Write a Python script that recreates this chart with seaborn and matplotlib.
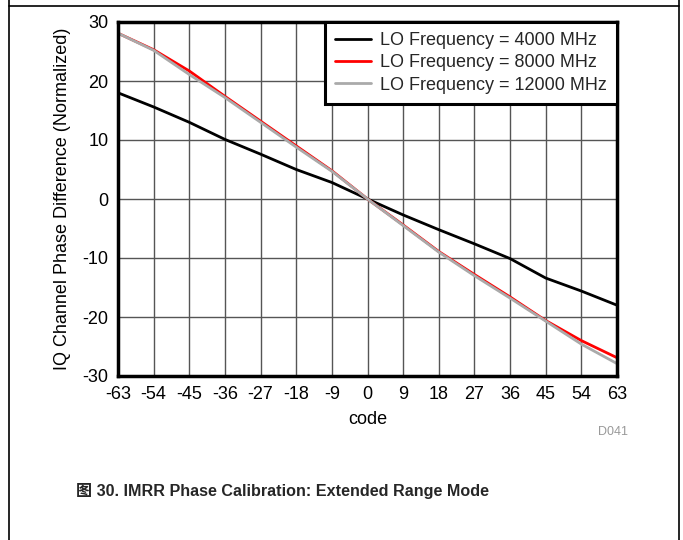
import matplotlib
matplotlib.use("Agg")
import matplotlib.pyplot as plt
import numpy as np
import pandas as pd
import seaborn as sns
from matplotlib.lines import Line2D

# Values (one point per tick of the code axis).
CODES = [-63, -54, -45, -36, -27, -18, -9, 0, 9, 18, 27, 36, 45, 54, 63]
LO_4000 = [18.0, 15.6, 13.0, 10.1, 7.6, 5.0, 2.8, 0.0, -2.7, -5.2, -7.6, -10.1, -13.4, -15.6, -18.0]
LO_8000 = [28.1, 25.3, 21.7, 17.4, 13.2, 9.0, 4.8, 0.0, -4.4, -8.9, -12.8, -16.6, -20.6, -24.0, -26.9]
LO_12000 = [28.1, 25.2, 21.1, 17.2, 13.0, 8.8, 4.7, 0.0, -4.5, -9.0, -13.0, -16.8, -20.7, -24.6, -27.9]
SERIES_NAMES = [
    "LO Frequency = 4000 MHz",
    "LO Frequency = 8000 MHz",
    "LO Frequency = 12000 MHz",
]
SERIES_COLORS = ["#000000", "#ff0000", "#aaaaaa"]
Y_TICKS = [-30, -20, -10, 0, 10, 20, 30]

FONT = ["Liberation Sans", "Noto Sans CJK SC", "DejaVu Sans"]


def build_frame() -> pd.DataFrame:
    parts = []
    for name, values in zip(SERIES_NAMES, [LO_4000, LO_8000, LO_12000]):
        parts.append(pd.DataFrame({"code": CODES, "phase": values, "series": name}))
    return pd.concat(parts, ignore_index=True)


def main() -> None:
    sns.set_style("white")
    plt.rcParams["font.family"] = FONT
    plt.rcParams["axes.unicode_minus"] = False

    df = build_frame()
    fig = plt.figure(figsize=(6.83, 5.40), dpi=100)
    ax = fig.add_axes([118 / 683, 1 - 376 / 540, 499 / 683, 354 / 540])

    sns.lineplot(
        data=df, x="code", y="phase", hue="series",
        palette=dict(zip(SERIES_NAMES, SERIES_COLORS)),
        linewidth=2, ax=ax, zorder=3,
    )

    ax.set_xlim(CODES[0], CODES[-1])
    ax.set_ylim(Y_TICKS[0], Y_TICKS[-1])
    ax.set_xticks(CODES)
    ax.set_yticks(Y_TICKS)
    ax.grid(True, color="#555555", linewidth=1)
    ax.tick_params(length=0, labelsize=13, pad=7, colors="black")
    for spine in ax.spines.values():
        spine.set_color("black")
        spine.set_linewidth(2.5)
        spine.set_zorder(4)

    ax.set_xlabel("code", fontsize=13, labelpad=6, color="black")
    ax.set_ylabel("IQ Channel Phase Difference (Normalized)", fontsize=13,
                  labelpad=8, color="black")

    leg = ax.legend(
        loc="upper right", borderaxespad=0, fontsize=13, frameon=True,
        fancybox=False, framealpha=1, edgecolor="black",
        handlelength=2.0, handletextpad=0.5, labelspacing=0.3,
        borderpad=0.55,
    )
    leg.get_frame().set_linewidth(2.2)
    leg.set_zorder(5)

    fig.text(613 / 683, 1 - 432 / 540, "D041", fontsize=9, color="#999999",
             ha="center", va="center")
    fig.text(282 / 683, 1 - 491 / 540,
             "图 30. IMRR Phase Calibration: Extended Range Mode",
             fontsize=11.6, fontweight="bold", ha="center", va="center")

    # Page frame around the figure
    fig.add_artist(Line2D([8.5 / 683, 8.5 / 683], [0, 1], color="black", lw=1.2))
    fig.add_artist(Line2D([678.5 / 683, 678.5 / 683], [0, 1], color="black", lw=1.2))
    fig.add_artist(Line2D([8.5 / 683, 678.5 / 683], [1 - 6 / 540, 1 - 6 / 540],
                          color="black", lw=1.2))

    fig.savefig("out.png", dpi=100)
    plt.close(fig)


if __name__ == "__main__":
    main()
